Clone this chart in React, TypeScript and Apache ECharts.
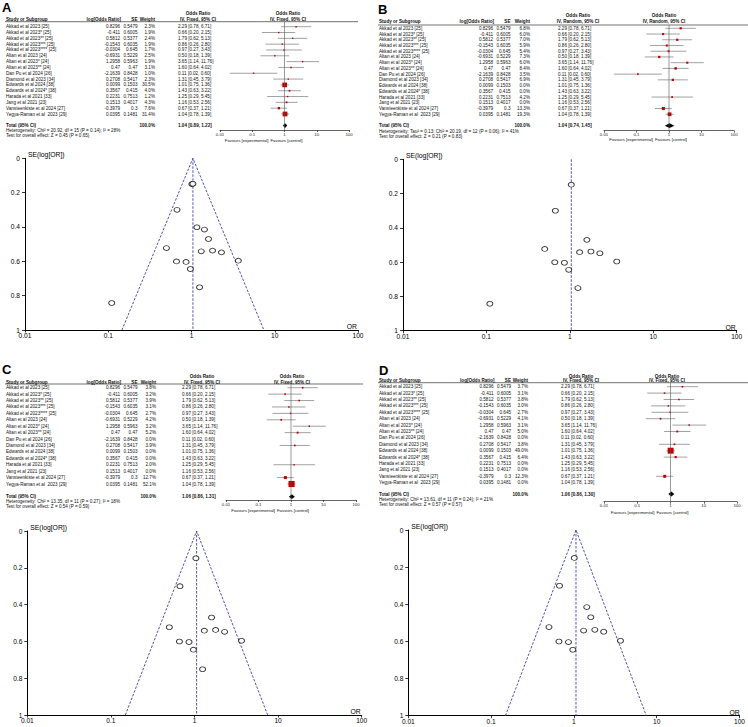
import React, { useEffect, useRef } from 'react';
import * as echarts from 'echarts';

// ---------------- data ----------------
const studies = [
  'Akkad et al 2023 [25]',
  'Akkad et al 2023* [25]',
  'Akkad et al 2023** [25]',
  'Akkad et al 2023*** [25]',
  'Akkad et al 2023**** [25]',
  'Altan et al 2023 [24]',
  'Altan et al 2023* [24]',
  'Altan et al 2023** [24]',
  'Dan Pu et al 2024 [26]',
  'Diamond et al 2023 [34]',
  'Edwards et al 2024 [38]',
  'Edwards et al 2024* [38]',
  'Harada et al 2021 [33]',
  'Jang et al 2021 [23]',
  'Vansteenkiste et al 2024 [27]',
  'Yegya-Raman et al  2023 [29]',
];
const logOddsRatio = [0.8296, -0.411, 0.5812, -0.1543, -0.0304, -0.6931, 1.2958, 0.47, -2.1639, 0.2708, 0.0099, 0.3567, 0.2231, 0.1513, -0.3979, 0.0395];
const standardError = [0.5479, 0.6005, 0.5377, 0.6035, 0.645, 0.5229, 0.5963, 0.47, 0.8428, 0.5417, 0.1503, 0.415, 0.7513, 0.4017, 0.3, 0.1481];
const oddsRatio = [2.29, 0.66, 1.79, 0.86, 0.97, 0.5, 3.65, 1.6, 0.11, 1.31, 1.01, 1.43, 1.25, 1.16, 0.67, 1.04];
const ciLower = [0.78, 0.2, 0.62, 0.26, 0.27, 0.18, 1.14, 0.64, 0.02, 0.45, 0.75, 0.63, 0.29, 0.53, 0.37, 0.78];
const ciUpper = [6.71, 2.15, 5.13, 2.8, 3.43, 1.39, 11.76, 4.02, 0.6, 3.79, 1.36, 3.22, 5.45, 2.56, 1.21, 1.39];

const weightA = [2.3, 1.9, 2.4, 1.9, 1.7, 2.5, 1.9, 3.1, 1.0, 2.3, 30.5, 4.0, 1.2, 4.3, 7.6, 31.4];
const weightB = [6.8, 6.0, 7.0, 5.9, 5.4, 7.3, 6.0, 8.4, 3.5, 6.9, 0.0, 0.0, 4.2, 0.0, 13.3, 19.3];
const weightC = [3.8, 3.2, 3.9, 3.1, 2.7, 4.2, 3.2, 5.2, 0.0, 3.9, 0.0, 0.0, 2.0, 0.0, 12.7, 52.1];
const weightD = [3.7, 3.1, 3.8, 3.0, 2.7, 4.1, 3.1, 5.0, 0.0, 3.8, 49.0, 6.4, 0.0, 0.0, 12.3, 0.0];
const panelWeights = [weightA, weightB, weightC, weightD];

const panelLetters = ['A', 'B', 'C', 'D'];
const methodLabels = ['IV, Fixed, 95% CI', 'IV, Random, 95% CI', 'IV, Fixed, 95% CI', 'IV, Fixed, 95% CI'];
const totalOR = [1.04, 1.04, 1.06, 1.06];
const totalLower = [0.89, 0.74, 0.86, 0.86];
const totalUpper = [1.22, 1.45, 1.31, 1.3];
const heterogeneity = [
  'Heterogeneity: Chi² = 20.92, df = 15 (P = 0.14); I² = 28%',
  'Heterogeneity: Tau² = 0.13; Chi² = 20.19, df = 12 (P = 0.06); I² = 41%',
  'Heterogeneity: Chi² = 13.35, df = 11 (P = 0.27); I² = 18%',
  'Heterogeneity: Chi² = 13.61, df = 11 (P = 0.24); I² = 21%',
];
const overallEffect = [
  'Test for overall effect: Z = 0.45 (P = 0.65)',
  'Test for overall effect: Z = 0.21 (P = 0.83)',
  'Test for overall effect: Z = 0.54 (P = 0.59)',
  'Test for overall effect: Z = 0.57 (P = 0.57)',
];
const funnelPooled = [1.04, 1.04, 1.06, 1.06];
const funnelLimitLower = [0.146, null, 0.149, 0.149];
const funnelLimitUpper = [7.4, null, 7.5, 7.5];
const orTickLabels = ['0.01', '0.1', '1', '10', '100'];

// ---------------- layout (pixels) ----------------
const LAYOUT = [
  { letter: [2, 3], h1: 13, h2: 19, ul: 21.7, ulX: [5, 358], row0: 26.7, rowH: 5.82, tot: 125.6, het: 130.7, test: 135.7,
    cStudy: 6, cLog: 120, cSE: 137.5, cW: 155, cCI: 178, fx: [220, 349], fAxis: 130, fHdr: 288, fav: 140,
    gx: [25, 358], gy: [158.3, 330] },
  { letter: [378, 5], h1: 15.7, h2: 21.5, ul: 25, ulX: [378, 748], row0: 28.3, rowH: 5.73, tot: 125.7, het: 131, test: 136,
    cStudy: 379, cLog: 493, cSE: 510.5, cW: 530, cCI: 558, fx: [604, 734], fAxis: 130.7, fHdr: 664, fav: 139.3,
    gx: [403, 736.7], gy: [159.3, 330.7] },
  { letter: [2, 365], h1: 376, h2: 382, ul: 384, ulX: [5, 363], row0: 387.7, rowH: 6.42, tot: 496.7, het: 501.7, test: 506.7,
    cStudy: 6, cLog: 120, cSE: 137.5, cW: 156, cCI: 182, fx: [226, 356], fAxis: 500, fHdr: 292, fav: 510,
    gx: [27.3, 361.7], gy: [531, 715] },
  { letter: [379, 366], h1: 376, h2: 380.7, ul: 382.7, ulX: [378, 748], row0: 386.7, rowH: 6.4, tot: 494, het: 499, test: 504,
    cStudy: 379, cLog: 493.5, cSE: 511, cW: 528, cCI: 561, fx: [604, 737], fAxis: 501.7, fHdr: 667, fav: 512,
    gx: [408.3, 740.7], gy: [530, 715.7] },
];

const FONT = 'Arial, "Liberation Sans", sans-serif';
const TXT = 4.6;

function txt(x: number, y: number, text: string, opts: any = {}) {
  return {
    type: 'text', x, y, silent: true,
    style: {
      text, fontSize: opts.size ?? TXT, fontWeight: opts.bold ? 'bold' : 'normal',
      fontStyle: opts.italic ? 'italic' : 'normal',
      fontFamily: FONT, fill: opts.color ?? '#111', align: opts.align ?? 'left',
      verticalAlign: opts.va ?? 'middle',
    },
  };
}

function logTickLabel(v: number) {
  return orTickLabels[Math.round(Math.log10(v)) + 2] ?? '';
}

function buildOption() {
  const grid: any[] = [];
  const xAxis: any[] = [];
  const yAxis: any[] = [];
  const series: any[] = [];
  const graphic: any[] = [];

  LAYOUT.forEach((L, p) => {
    const w = panelWeights[p];
    // ---- forest grid ----
    const yMin = (L.ul - L.row0) / L.rowH;
    const yMax = (L.fAxis - L.row0) / L.rowH;
    const totRow = (L.tot - L.row0) / L.rowH;
    const gi = grid.length;
    grid.push({ left: L.fx[0], top: L.ul, width: L.fx[1] - L.fx[0], height: L.fAxis - L.ul });
    xAxis.push({
      gridIndex: gi, type: 'log', logBase: 10, min: 0.01, max: 100,
      axisLine: { onZero: false, lineStyle: { color: '#222', width: 0.7 } },
      axisTick: { length: 2, lineStyle: { color: '#222', width: 0.7 } },
      axisLabel: { fontSize: 4.3, margin: 2, color: '#222', fontFamily: FONT, formatter: logTickLabel },
      splitLine: { show: false }, minorTick: { show: false },
    });
    yAxis.push({ gridIndex: gi, type: 'value', min: yMin, max: yMax, inverse: true, show: false, splitLine: { show: false } });

    series.push({
      type: 'line', xAxisIndex: gi, yAxisIndex: gi, data: [[1, yMin], [1, yMax]],
      symbol: 'none', lineStyle: { color: '#555', width: 0.6 }, silent: true,
    });
    const ciData: any[] = [];
    studies.forEach((_, i) => {
      if (w[i] > 0) ciData.push([ciLower[i], ciUpper[i], oddsRatio[i], i, w[i]]);
    });
    series.push({
      type: 'custom', xAxisIndex: gi, yAxisIndex: gi, data: ciData,
      encode: { x: [0, 1, 2], y: 3 }, silent: true,
      renderItem: (params: any, api: any) => {
        const row = api.value(3);
        const a = api.coord([api.value(0), row]);
        const b = api.coord([api.value(1), row]);
        const c = api.coord([api.value(2), row]);
        const s = Math.max(1.4, 0.85 * Math.sqrt(api.value(4)));
        return {
          type: 'group',
          children: [
            { type: 'line', shape: { x1: a[0], y1: a[1], x2: b[0], y2: b[1] }, style: { stroke: '#7a7a7a', lineWidth: 0.7 } },
            { type: 'rect', shape: { x: c[0] - s / 2, y: c[1] - s / 2, width: s, height: s }, style: { fill: '#c00000' } },
          ],
        };
      },
    });
    series.push({
      type: 'custom', xAxisIndex: gi, yAxisIndex: gi,
      data: [[totalLower[p], totalUpper[p], totalOR[p], totRow]],
      encode: { x: [0, 1, 2], y: 3 }, silent: true,
      renderItem: (params: any, api: any) => {
        const row = api.value(3);
        const a = api.coord([api.value(0), row]);
        const b = api.coord([api.value(1), row]);
        const c = api.coord([api.value(2), row]);
        const h = 2.4;
        return {
          type: 'polygon',
          shape: { points: [[a[0], a[1]], [c[0], c[1] - h], [b[0], b[1]], [c[0], c[1] + h]] },
          style: { fill: '#000' },
        };
      },
    });

    // ---- table texts ----
    graphic.push(txt(L.letter[0], L.letter[1] - 2, panelLetters[p], { size: 13, bold: true, va: 'top', color: '#000' }));
    const ciC = L.cCI + 20;
    graphic.push(txt(ciC, L.h1, 'Odds Ratio', { bold: true, align: 'center' }));
    graphic.push(txt(L.fHdr, L.h1, 'Odds Ratio', { bold: true, align: 'center' }));
    graphic.push(txt(L.cStudy, L.h2, 'Study or Subgroup', { bold: true }));
    graphic.push(txt(L.cLog + 1, L.h2, 'log[Odds Ratio]', { bold: true, align: 'right' }));
    graphic.push(txt(L.cSE, L.h2, 'SE', { bold: true, align: 'right' }));
    graphic.push(txt(L.cW, L.h2, 'Weight', { bold: true, align: 'right' }));
    graphic.push(txt(ciC, L.h2, methodLabels[p], { bold: true, align: 'center' }));
    graphic.push(txt(L.fHdr, L.h2, methodLabels[p], { bold: true, align: 'center' }));
    graphic.push({
      type: 'line', silent: true,
      shape: { x1: L.ulX[0], y1: L.ul, x2: L.ulX[1], y2: L.ul },
      style: { stroke: '#333', lineWidth: 0.7 },
    });
    studies.forEach((name, i) => {
      const y = L.row0 + i * L.rowH;
      graphic.push(txt(L.cStudy, y, name));
      graphic.push(txt(L.cLog, y, String(logOddsRatio[i]), { align: 'right' }));
      graphic.push(txt(L.cSE, y, String(standardError[i]), { align: 'right' }));
      graphic.push(txt(L.cW, y, w[i].toFixed(1) + '%', { align: 'right' }));
      graphic.push(txt(L.cCI, y, `${oddsRatio[i].toFixed(2)} [${ciLower[i].toFixed(2)}, ${ciUpper[i].toFixed(2)}]`));
    });
    graphic.push(txt(L.cStudy, L.tot, 'Total (95% CI)', { bold: true }));
    graphic.push(txt(L.cW, L.tot, '100.0%', { bold: true, align: 'right' }));
    graphic.push(txt(L.cCI, L.tot, `${totalOR[p].toFixed(2)} [${totalLower[p].toFixed(2)}, ${totalUpper[p].toFixed(2)}]`, { bold: true }));
    graphic.push(txt(L.cStudy, L.het, heterogeneity[p]));
    graphic.push(txt(L.cStudy, L.test, overallEffect[p]));
    const split = (L.fx[0] + L.fx[1]) / 2 - 15;
    graphic.push(txt(split - 1, L.fav, 'Favours [experimental]', { size: 4.3, align: 'right' }));
    graphic.push(txt(split + 1, L.fav, 'Favours [control]', { size: 4.3 }));

    // ---- funnel grid ----
    const fi = grid.length;
    grid.push({ left: L.gx[0], top: L.gy[0], width: L.gx[1] - L.gx[0], height: L.gy[1] - L.gy[0] });
    xAxis.push({
      gridIndex: fi, type: 'log', logBase: 10, min: 0.01, max: 100,
      axisLine: { onZero: false, lineStyle: { color: '#000', width: 1 } },
      axisTick: { length: 2.5, lineStyle: { color: '#000', width: 0.8 } },
      axisLabel: { fontSize: 6.6, margin: 2, color: '#000', fontFamily: FONT, formatter: logTickLabel },
      splitLine: { show: false }, minorTick: { show: false },
    });
    yAxis.push({
      gridIndex: fi, type: 'value', min: 0, max: 1, interval: 0.2, inverse: true,
      axisLine: { show: true, onZero: false, lineStyle: { color: '#000', width: 1 } },
      axisTick: { show: true, length: 3, lineStyle: { color: '#000', width: 0.8 } },
      axisLabel: { fontSize: 6.6, margin: 5, color: '#000', fontFamily: FONT },
      splitLine: { show: false },
    });
    const pooled = funnelPooled[p];
    const lo = funnelLimitLower[p];
    const hi = funnelLimitUpper[p];
    const dash = { color: '#3c3ca8', width: 0.9, type: [2.5, 1.5] };
    if (lo !== null && hi !== null) {
      series.push({
        type: 'line', xAxisIndex: fi, yAxisIndex: fi, data: [[lo, 1], [pooled, 0], [hi, 1]],
        symbol: 'none', lineStyle: dash, silent: true,
      });
    }
    series.push({
      type: 'line', xAxisIndex: fi, yAxisIndex: fi, data: [[pooled, 0], [pooled, 1]],
      symbol: 'none', lineStyle: dash, silent: true,
    });
    const pts: any[] = [];
    studies.forEach((_, i) => {
      if (w[i] > 0) pts.push([oddsRatio[i], standardError[i]]);
    });
    series.push({
      type: 'scatter', xAxisIndex: fi, yAxisIndex: fi, data: pts, symbol: 'circle', symbolSize: [6, 4.8],
      itemStyle: { color: '#fff', borderColor: '#000', borderWidth: 0.9 }, silent: true, z: 5,
    });
    graphic.push(txt(L.gx[0] + 3, L.gy[0] - 3.5, 'SE(log[OR])', { size: 6.8, color: '#000' }));
    graphic.push(txt(L.gx[1] - 1, L.gy[1] - 3.5, 'OR', { size: 6.8, align: 'right', color: '#000' }));
  });

  return {
    animation: false,
    backgroundColor: '#fff',
    textStyle: { fontFamily: FONT },
    grid, xAxis, yAxis, series, graphic,
  };
}

export default function App() {
  const ref = useRef<HTMLDivElement>(null);
  useEffect(() => {
    if (!ref.current) return;
    const chart = echarts.init(ref.current, undefined, { renderer: 'svg' });
    chart.setOption(buildOption() as any);
    return () => chart.dispose();
  }, []);
  return (
    <div
      ref={ref}
      style={{ position: 'absolute', left: 0, top: 0, width: 748, height: 727, background: '#fff' }}
    />
  );
}
